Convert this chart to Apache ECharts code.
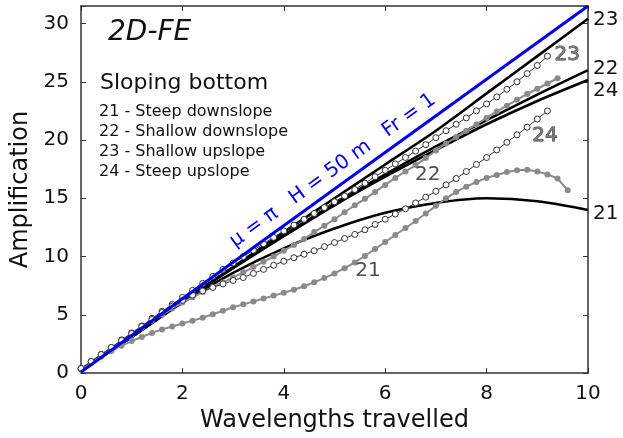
<!DOCTYPE html>
<html>
<head>
<meta charset="utf-8">
<script src="https://cdn.jsdelivr.net/npm/echarts@6/dist/echarts.min.js"></script>
<style>
html,body{margin:0;padding:0;background:#fff;}
#chart{width:623px;height:438px;}
</style>
</head>
<body>
<div id="chart"></div>
<script>
// ---- data ----
const wavelengths = [0,0.2,0.4,0.6,0.8,1.0,1.2,1.4,1.6,1.8,2.0,2.2,2.4,2.6,2.8,3.0,3.2,3.4,3.6,3.8,4.0,4.2,4.4,4.6,4.8,5.0,5.2,5.4,5.6,5.8,6.0,6.2,6.4,6.6,6.8,7.0,7.2,7.4,7.6,7.8,8.0,8.2,8.4,8.6,8.8,9.0,9.2,9.4,9.6];
const sim21 = [0.3,0.85,1.4,1.9,2.35,2.75,3.1,3.45,3.75,4.0,4.25,4.5,4.75,5.05,5.35,5.65,5.9,6.15,6.4,6.65,6.9,7.15,7.45,7.8,8.15,8.55,9.0,9.5,10.05,10.65,11.25,11.85,12.45,13.05,13.7,14.35,15.0,15.55,16.0,16.4,16.75,17.0,17.25,17.4,17.45,17.3,17.05,16.7,15.7];
const sim22 = [0.3,0.9,1.5,2.1,2.7,3.3,3.9,4.5,5.0,5.55,6.05,6.5,6.95,7.4,7.8,8.2,8.65,9.1,9.55,10.0,10.5,11.0,11.5,12.1,12.65,13.2,13.8,14.4,14.95,15.55,16.15,16.75,17.3,17.85,18.45,19.1,19.7,20.25,20.8,21.35,21.9,22.45,22.95,23.45,23.95,24.4,24.85,25.3];
const sim23 = [0.4,1.0,1.6,2.2,2.85,3.45,4.05,4.7,5.3,5.9,6.5,7.1,7.7,8.3,8.9,9.45,10.0,10.55,11.1,11.65,12.2,12.7,13.2,13.7,14.2,14.7,15.2,15.75,16.3,16.85,17.4,17.95,18.5,19.05,19.6,20.2,20.8,21.35,21.9,22.5,23.1,23.7,24.35,25.0,25.7,26.4,27.2];
const sim24 = [0.4,1.0,1.6,2.2,2.8,3.4,4.0,4.6,5.2,5.75,6.25,6.7,7.05,7.35,7.65,7.95,8.2,8.55,8.9,9.25,9.6,9.9,10.2,10.5,10.85,11.2,11.55,11.9,12.3,12.75,13.2,13.65,14.1,14.6,15.1,15.6,16.15,16.7,17.3,17.9,18.5,19.15,19.8,20.45,21.1,21.8,22.5];
const theoryX  = [0,1,2,3,4,5,6,7,8,9,10];
const theory21 = [0.25,3.1,6.05,8.6,10.7,12.4,13.75,14.6,15.0,14.75,14.0];
const theory22 = [0.25,3.1,6.15,9.05,11.85,14.55,17.05,19.45,21.7,23.9,26.0];
const theory23 = [0.25,3.1,6.15,9.1,12.1,15.0,17.9,20.8,24.0,27.2,30.4];
const theory24 = [0.25,3.1,6.15,9.0,11.75,14.4,16.85,19.15,21.35,23.35,25.15];
const muPiX = [0,10];
const muPiY = [0.1,31.5];
const xTicks = [0,2,4,6,8,10];
const yTicks = [0,5,10,15,20,25,30];

const FONT = 'DejaVu Sans';
const zip = (xs, ys) => ys.map((y, i) => [xs[i], y]);

const chart = echarts.init(document.getElementById('chart'), null, {renderer: 'canvas'});

const axisLineStyle = {color: '#333', width: 1.5};
function xAx(pos, showLabel) {
  return {
    type: 'value', min: xTicks[0], max: xTicks[xTicks.length - 1], interval: 2, position: pos,
    axisLine: {show: true, onZero: false, lineStyle: axisLineStyle},
    axisTick: {show: true, inside: true, length: 5, lineStyle: {color: '#333', width: 1}},
    axisLabel: {show: showLabel, fontSize: 20, color: '#111', fontFamily: FONT, margin: 11},
    splitLine: {show: false},
    name: showLabel ? 'Wavelengths travelled' : '',
    nameLocation: 'middle', nameGap: 35,
    nameTextStyle: {fontSize: 24, color: '#111', fontFamily: FONT}
  };
}
function yAx(pos, showLabel) {
  return {
    type: 'value', min: yTicks[0], max: 31.5, interval: 5, position: pos,
    axisLine: {show: true, onZero: false, lineStyle: axisLineStyle},
    axisTick: {show: true, inside: true, length: 5, lineStyle: {color: '#333', width: 1}},
    axisLabel: {show: showLabel, fontSize: 20, color: '#111', fontFamily: FONT, margin: 12,
      formatter: v => (yTicks.indexOf(v) >= 0 ? String(v) : '')},
    splitLine: {show: false},
    name: showLabel ? 'Amplification' : '',
    nameLocation: 'middle', nameGap: 46,
    nameTextStyle: {fontSize: 24, color: '#111', fontFamily: FONT}
  };
}

function theoryLine(ys) {
  return {type: 'line', data: zip(theoryX, ys), smooth: 0.3, showSymbol: false,
    lineStyle: {color: '#000', width: 2.6}, z: 2};
}
function graySim(ys) {
  return {type: 'line', data: zip(wavelengths, ys), showAllSymbol: true, symbol: 'circle', symbolSize: 6,
    itemStyle: {color: '#8a8a8a'}, lineStyle: {color: '#8a8a8a', width: 2}, z: 3};
}
function openSim(ys) {
  return {type: 'line', data: zip(wavelengths, ys), showAllSymbol: true, symbol: 'circle', symbolSize: 6,
    itemStyle: {color: '#fff', borderColor: '#333', borderWidth: 1}, lineStyle: {color: '#333', width: 1}, z: 4};
}

chart.setOption({
  animation: false,
  backgroundColor: '#fff',
  grid: {left: 81, right: 35, top: 6, bottom: 64},
  xAxis: [xAx('bottom', true), xAx('top', false)],
  yAxis: [yAx('left', true), yAx('right', false)],
  series: [
    theoryLine(theory21), theoryLine(theory22), theoryLine(theory23), theoryLine(theory24),
    graySim(sim21), graySim(sim22),
    openSim(sim23), openSim(sim24),
    {type: 'line', data: zip(muPiX, muPiY), showSymbol: false, lineStyle: {color: '#0000ee', width: 3}, z: 5}
  ]
});

// ---- annotations ----
const px = p => chart.convertToPixel({gridIndex: 0}, p);
const a = px([muPiX[0], muPiY[0]]);
const b = px([muPiX[1], muPiY[1]]);
const theta = Math.atan2(a[1] - b[1], b[0] - a[0]);
const midX = 5.15;
const onLine = px([midX, muPiY[0] + (muPiY[1] - muPiY[0]) * midX / 10]);
const d = 16;
const blueC = [onLine[0] - d * Math.sin(theta), onLine[1] - d * Math.cos(theta)];

function txt(pos, text, size, extra) {
  return Object.assign({type: 'text', x: pos[0], y: pos[1], z: 10,
    style: Object.assign({text: text, fontSize: size, fontFamily: FONT, fill: '#111',
      align: 'left', verticalAlign: 'middle'}, extra || {})});
}
const lbl = (d, t, style) => txt(px(d), t, 20, Object.assign({align: 'center'}, style));
const rightX = px([10, 0])[0] + 5;
const rl = (y, t) => txt([rightX, px([10, y])[1]], t, 20, {});

const grayA = {fill: '#4d4d4d'};
const grayB = {fill: '#7a7a7a', stroke: '#333', lineWidth: 0.8};

chart.setOption({
  graphic: [
    txt([108, 33], '2D-FE', 28, {fontStyle: 'italic'}),
    txt([100, 83], 'Sloping bottom', 22),
    txt([99, 112], '21 - Steep downslope', 16),
    txt([99, 132], '22 - Shallow downslope', 16),
    txt([99, 152], '23 - Shallow upslope', 16),
    txt([99, 172], '24 - Steep upslope', 16),
    {type: 'text', x: blueC[0], y: blueC[1], rotation: theta, z: 10,
      style: {text: 'μ = π   H = 50 m   Fr = 1', fontSize: 20, fontFamily: FONT, fill: '#0000ee',
        align: 'center', verticalAlign: 'middle'}},
    lbl([9.59, 27.3], '23', grayB),
    lbl([9.15, 20.4], '24', grayB),
    lbl([6.84, 17.0], '22', grayA),
    lbl([5.66, 8.8], '21', grayA),
    rl(30.3, '23'), rl(26.1, '22'), rl(24.2, '24'), rl(13.7, '21')
  ]
});
</script>
</body>
</html>
